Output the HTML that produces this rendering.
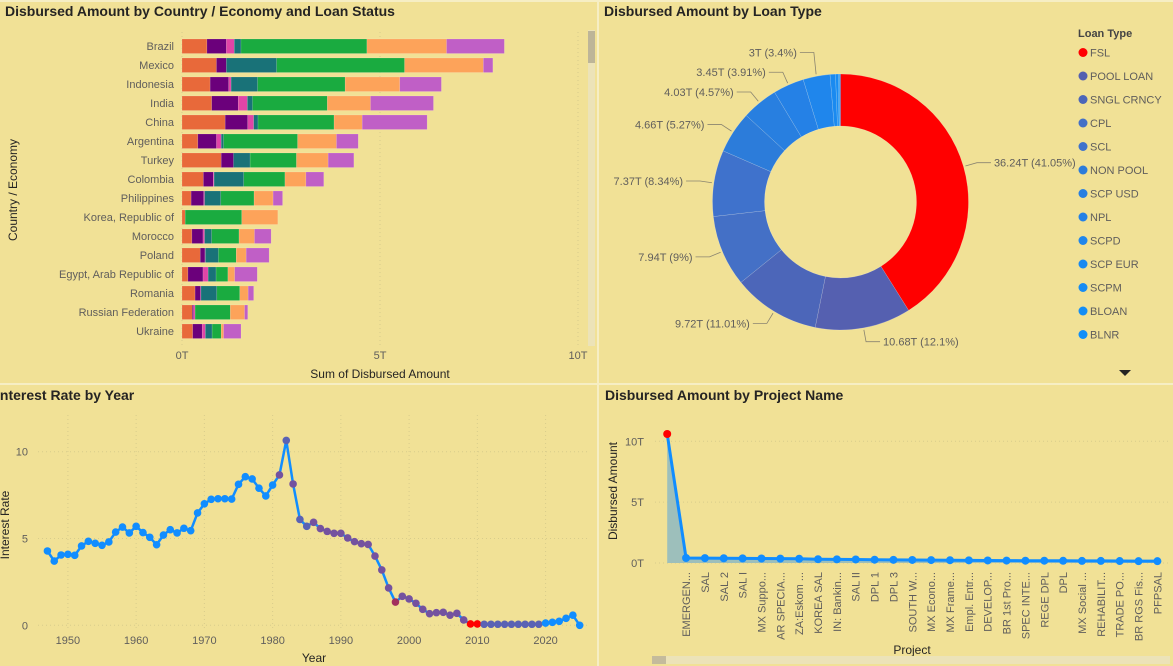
<!DOCTYPE html>
<html><head><meta charset="utf-8">
<style>
html,body{margin:0;padding:0;background:#f1e196;}
svg{display:block;font-family:"Liberation Sans","DejaVu Sans",sans-serif;}
.t{font-size:14px;font-weight:bold;fill:#252423;}
.tick{font-size:11px;fill:#605e5c;}
.ax{font-size:12px;fill:#252423;}
</style></head>
<body>
<svg id="dash" width="1173" height="666" viewBox="0 0 1173 666" xmlns="http://www.w3.org/2000/svg">
<rect x="0" y="0" width="1173" height="666" fill="#f1e196"/>
<line x1="0" y1="384" x2="1173" y2="384" stroke="#f6eec4" stroke-width="2"/>
<line x1="598" y1="0" x2="598" y2="666" stroke="#f6eec4" stroke-width="2"/>
<line x1="0" y1="1" x2="1173" y2="1" stroke="#f6eec4" stroke-width="2"/>

<text class="t" x="5" y="16">Disbursed Amount by Country / Economy and Loan Status</text>
<text class="t" x="604" y="16">Disbursed Amount by Loan Type</text>
<text class="t" x="-4" y="400">Interest Rate by Year</text>
<text class="t" x="605" y="400">Disbursed Amount by Project Name</text>

<g id="bars"></g>
<g id="donut"></g>
<g id="line"></g>
<g id="area"></g>

<rect x="588" y="30" width="7" height="316" fill="#ece3b8"/>
<rect x="588" y="31" width="7" height="32" fill="#bdb598"/>
<rect x="652" y="656" width="518" height="8" fill="#ece3b8"/>
<rect x="652" y="656" width="14" height="8" fill="#c4bb9c"/>
<polygon points="1119,370 1131,370 1125,376" fill="#252423"/>
</svg>
<script>
const NS='http://www.w3.org/2000/svg';
function mk(tag,attrs,parent,text){const e=document.createElementNS(NS,tag);for(const k in attrs)e.setAttribute(k,attrs[k]);if(text!==undefined)e.textContent=text;parent.appendChild(e);return e;}

/* ---------- Bar chart data ---------- */
const countries=["Brazil","Mexico","Indonesia","India","China","Argentina","Turkey","Colombia","Philippines","Korea, Republic of","Morocco","Poland","Egypt, Arab Republic of","Romania","Russian Federation","Ukraine"];
const s1=[0.63,0.87,0.71,0.75,1.09,0.40,0.99,0.54,0.23,0.08,0.25,0.46,0.15,0.33,0.26,0.27];
const s2=[0.49,0.25,0.47,0.67,0.57,0.47,0.31,0.25,0.32,0,0.28,0.12,0.38,0.14,0.03,0.24];
const s3=[0.20,0,0.06,0.23,0.15,0.12,0,0.02,0.02,0,0.04,0.01,0.13,0.01,0.04,0.08];
const s4=[0.17,1.27,0.67,0.13,0.11,0.06,0.42,0.75,0.41,0,0.18,0.33,0.20,0.40,0,0.17];
const s5=[3.18,3.23,2.21,1.89,1.92,1.87,1.17,1.04,0.84,1.43,0.69,0.45,0.30,0.58,0.89,0.23];
const s6=[2.01,1.99,1.38,1.09,0.71,0.98,0.80,0.53,0.48,0.91,0.39,0.25,0.17,0.21,0.36,0.06];
const s7=[1.46,0.24,1.05,1.59,1.64,0.55,0.65,0.45,0.24,0,0.42,0.58,0.57,0.14,0.08,0.44];
const barTicks=["0T","5T","10T"];
const barTickVals=[0,5,10];
(function(){
 const g=document.getElementById('bars');
 const series=[s1,s2,s3,s4,s5,s6,s7];
 const colors=["#e8693a","#6b007b","#e044a7","#197278","#1aab40","#fda35a","#c05fc6"];
 const x=v=>182+v*39.6, y=i=>46+i*19;
 barTickVals.forEach((v,i)=>{
  const gl=mk('line',{x1:x(v),y1:32,x2:x(v),y2:345,stroke:'#d8cc8c','stroke-dasharray':'1,3'},g);
  
  
  const t=mk('text',{x:x(v),y:359,'text-anchor':'middle',class:'tick'},g,barTicks[i]);
  
  
 });
 countries.forEach((c,i)=>{
  const t=mk('text',{x:174,y:y(i)+4,'text-anchor':'end',class:'tick'},g,c);
  
  
  let acc=0;
  series.forEach((s,k)=>{
   if(s[i]>0){
    const r=mk('rect',{x:x(acc),y:y(i)-7,width:s[i]*39.6,height:14.5,fill:colors[k],stroke:'rgba(255,255,255,0.25)','stroke-width':0.5},g);
    
    
   }
   acc+=s[i];
  });
 });
 const at=mk('text',{x:380,y:378,'text-anchor':'middle',class:'ax'},g,'Sum of Disbursed Amount');
 
 
 const yt=mk('text',{x:0,y:0,'text-anchor':'middle',class:'ax',transform:'translate(17,190) rotate(-90)'},g,'Country / Economy');
 
 
})();

/* ---------- Donut data ---------- */
const loanTypes=["FSL","POOL LOAN","SNGL CRNCY","CPL","SCL","NON POOL","SCP USD","NPL","SCPD","SCP EUR","SCPM","BLOAN","BLNR"];
const loanValues=[36.24,10.68,9.72,7.94,7.37,4.66,4.03,3.45,3.0,0.6,0.3,0.15,0.1];
const loanLabels=["36.24T (41.05%)","10.68T (12.1%)","9.72T (11.01%)","7.94T (9%)","7.37T (8.34%)","4.66T (5.27%)","4.03T (4.57%)","3.45T (3.91%)","3T (3.4%)","","","",""];
(function(){
 const g=document.getElementById('donut');
 const colors=["#ff0000","#5560b0","#4c66b9","#4470c6","#3f72cc","#2c7cda","#287fe0","#2581e6","#1f86ec","#1a8af0","#178cf3","#138ef6","#118ff8"];
 const cx=840.5,cy=202,R=128,r=76;
 const total=loanValues.reduce((a,b)=>a+b,0);
 let a0=0;
 loanValues.forEach((v,i)=>{
  const a1=a0+v/total*2*Math.PI;
  const p=(a,rad)=>[cx+rad*Math.sin(a),cy-rad*Math.cos(a)];
  const [x1,y1]=p(a0,R),[x2,y2]=p(a1,R),[x3,y3]=p(a1,r),[x4,y4]=p(a0,r);
  const lg=(a1-a0)>Math.PI?1:0;
  const path=mk('path',{d:`M${x1},${y1}A${R},${R} 0 ${lg} 1 ${x2},${y2}L${x3},${y3}A${r},${r} 0 ${lg} 0 ${x4},${y4}Z`,fill:colors[i],stroke:'rgba(255,255,255,0.3)','stroke-width':0.5},g);
  
  
  if(loanLabels[i]){
   const am=(a0+a1)/2;
   const [ex,ey]=p(am,R+2),[bx,by]=p(am,R+14);
   const right=Math.sin(am)>=0;
   let hx=bx+(right?14:-14);
   let ty=by;
   if(i===8){ty=by-10;}
   const ln=mk('polyline',{points:`${ex},${ey} ${bx},${ty} ${hx},${ty}`,fill:'none',stroke:'#8a8470','stroke-width':0.8},g);
   
   
   const t=mk('text',{x:hx+(right?3:-3),y:ty+4,'text-anchor':right?'start':'end',class:'tick'},g,loanLabels[i]);
   
   
  }
  a0=a1;
 });
 const lt=mk('text',{x:1078,y:37,'font-size':'11px','font-weight':'bold',fill:'#444'},g,'Loan Type');
 
 
 loanTypes.forEach((n,i)=>{
  const yy=52.5+i*23.5;
  const c=mk('circle',{cx:1083,cy:yy,r:4.5,fill:colors[i]},g);
  
  
  const t=mk('text',{x:1090,y:yy+4,class:'tick','font-size':'11.5px'},g,n);
  
  
 });
})();

/* ---------- Line chart data ---------- */
const years=[];for(let yv=1947;yv<=2025;yv++)years.push(yv);
const rates=[4.28,3.7,4.05,4.09,4.03,4.57,4.84,4.72,4.61,4.8,5.37,5.66,5.32,5.7,5.34,5.07,4.64,5.2,5.51,5.32,5.59,5.45,6.47,7.0,7.26,7.29,7.29,7.27,8.12,8.56,8.43,7.9,7.45,8.08,8.66,10.65,8.14,6.1,5.7,5.93,5.57,5.41,5.3,5.3,5.03,4.82,4.7,4.66,3.99,3.19,2.15,1.34,1.67,1.52,1.27,0.92,0.67,0.73,0.75,0.58,0.69,0.31,0.08,0.08,0.06,0.06,0.06,0.06,0.06,0.06,0.06,0.06,0.06,0.13,0.17,0.23,0.4,0.58,0];
const rateTicks=["0","5","10"];
const rateTickVals=[0,5,10];
const yearTicks=[1950,1960,1970,1980,1990,2000,2010,2020];
(function(){
 const g=document.getElementById('line');
 const x=yv=>67.9+(yv-1950)*6.824, y=v=>625.3-v*17.36;
 yearTicks.forEach(yv=>{
  const gl=mk('line',{x1:x(yv),y1:415,x2:x(yv),y2:628,stroke:'#d8cc8c','stroke-dasharray':'1,3'},g);
  
  
  const t=mk('text',{x:x(yv),y:644,'text-anchor':'middle',class:'tick'},g,yv);
  
  
 });
 rateTickVals.forEach((v,i)=>{
  const gl=mk('line',{x1:38,y1:y(v),x2:590,y2:y(v),stroke:'#d8cc8c','stroke-dasharray':'1,3'},g);
  
  
  const t=mk('text',{x:28,y:y(v)+4,'text-anchor':'end',class:'tick'},g,rateTicks[i]);
  
  
 });
 const pts=years.map((yv,i)=>x(yv)+','+y(rates[i])).join(' ');
 const pl=mk('polyline',{points:pts,fill:'none',stroke:'#118dff','stroke-width':2.5,'stroke-linejoin':'round'},g);
 
 
 years.forEach((yv,i)=>{
  let col='#118dff';
  if(yv>=1981&&yv<=2019)col=(yv===1982||yv===1984||yv===1985||yv>=2011)?'#5a62b4':'#74529f';
  if(yv===1998)col='#a2305e';
  if(yv===2009||yv===2010)col='#ff0000';
  const c=mk('circle',{cx:x(yv),cy:y(rates[i]),r:3.8,fill:col},g);
  
  
 });
 const xt=mk('text',{x:314,y:662,'text-anchor':'middle',class:'ax'},g,'Year');
 
 
 const yt=mk('text',{x:0,y:0,'text-anchor':'middle',class:'ax',transform:'translate(9,525) rotate(-90)'},g,'Interest Rate');
 
 
})();

/* ---------- Area chart data ---------- */
const projects=["","EMERGEN...","SAL","SAL 2","SAL I","MX Suppo...","AR SPECIA...","ZA:Eskom ...","KOREA SAL","IN: Bankin...","SAL II","DPL 1","DPL 3","SOUTH W...","MX Econo...","MX Frame...","Empl. Entr...","DEVELOP...","BR 1st Pro...","SPEC INTE...","REGE DPL","DPL","MX Social ...","REHABILIT...","TRADE PO...","BR RGS Fis...","PFPSAL"];
const amounts=[10.6,0.41,0.40,0.39,0.38,0.37,0.36,0.35,0.31,0.30,0.29,0.27,0.26,0.25,0.24,0.23,0.22,0.21,0.20,0.19,0.19,0.18,0.17,0.17,0.16,0.15,0.15];
const amtTicks=["0T","5T","10T"];
const amtTickVals=[0,5,10];
(function(){
 const g=document.getElementById('area');
 const n=projects.length;
 const x=i=>667.2+i*(1157.4-667.2)/(n-1), y=v=>563-v*12.17;
 amtTickVals.forEach((v,i)=>{
  const gl=mk('line',{x1:655,y1:y(v),x2:1170,y2:y(v),stroke:'#d8cc8c','stroke-dasharray':'1,3'},g);
  
  
  const t=mk('text',{x:644,y:y(v)+4,'text-anchor':'end',class:'tick'},g,amtTicks[i]);
  
  
 });
 let d=`M${x(0)},${y(0)}`;
 amounts.forEach((v,i)=>{d+=`L${x(i)},${y(v)}`;});
 d+=`L${x(n-1)},${y(0)}Z`;
 const ar=mk('path',{d:d,fill:'#9dbfbb'},g);
 
 
 const pl=mk('polyline',{points:amounts.map((v,i)=>x(i)+','+y(v)).join(' '),fill:'none',stroke:'#118dff','stroke-width':3},g);
 
 
 amounts.forEach((v,i)=>{
  const c=mk('circle',{cx:x(i),cy:y(v),r:4,fill:i===0?'#ff0000':'#118dff'},g);
  
  
  if(projects[i]){
   const t=mk('text',{x:0,y:0,'text-anchor':'end',class:'tick','font-size':'10.5px',transform:`translate(${x(i)+4},572) rotate(-90)`},g,projects[i]);
   
   
  }
 });
 const xt=mk('text',{x:912,y:654,'text-anchor':'middle',class:'ax'},g,'Project');
 
 
 const yt=mk('text',{x:0,y:0,'text-anchor':'middle',class:'ax',transform:'translate(617,491) rotate(-90)'},g,'Disbursed Amount');
 
 
})();
</script>
</body></html>
